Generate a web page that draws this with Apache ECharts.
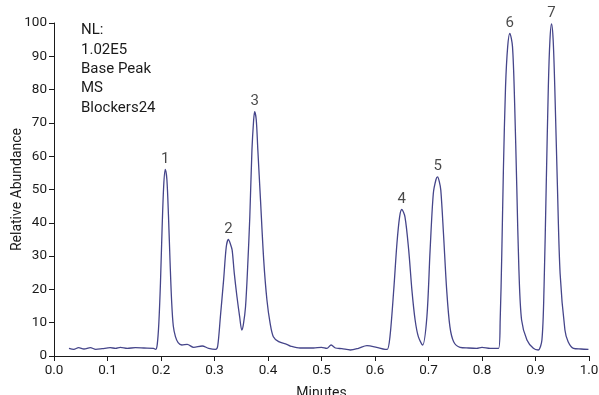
<!DOCTYPE html>
<html>
<head>
<meta charset="utf-8">
<script src="https://cdn.jsdelivr.net/npm/echarts@6/dist/echarts.min.js"></script>
<style>
html,body{margin:0;padding:0;background:#fff;}
#c{width:599px;height:395px;}
</style>
</head>
<body>
<div id="c"></div>
<script>
// Retention time (minutes)
var times = [
0.028,0.037,0.046,0.056,0.068,0.078,0.090,0.105,0.115,0.124,0.137,0.152,0.168,0.186,0.190,
0.193,0.196,0.199,0.202,0.205,0.208,0.211,0.214,0.217,0.220,0.223,0.227,0.232,0.239,0.249,0.261,0.277,0.289,0.302,
0.306,0.311,0.317,0.322,0.326,0.330,0.333,0.337,0.342,0.347,0.351,0.354,0.358,0.362,0.366,0.370,0.373,0.375,0.378,0.381,0.386,0.392,0.398,0.404,0.410,0.420,0.435,
0.442,0.460,0.485,0.500,0.510,0.518,0.526,0.538,0.554,0.569,0.585,0.603,0.619,
0.623,0.628,0.635,0.641,0.646,0.650,0.656,0.663,0.669,0.675,0.681,0.689,0.697,0.703,0.709,0.714,0.717,0.720,0.723,0.728,0.734,0.740,0.747,0.759,
0.775,0.790,0.800,0.815,0.831,
0.834,0.837,0.840,0.844,0.848,0.852,0.857,0.861,0.865,0.869,0.874,0.884,0.896,0.905,
0.912,0.916,0.920,0.924,0.927,0.930,0.933,0.936,0.941,0.946,0.955,0.961,0.971,0.985,0.999
];
// Relative abundance (%)
var abundance = [
2.3,2.0,2.5,2.1,2.5,2.0,2.2,2.5,2.3,2.6,2.3,2.5,2.4,2.3,2.0,
3.5,10,22,38,51,56,53,42,28,16,9,5.8,4.0,3.3,3.5,2.6,3.0,2.3,2.0,
3.0,11.8,22.8,32.8,35,33.5,31.8,24.8,17.8,11.8,7.8,9.5,14.8,26.8,41.8,61.9,70.5,73.4,71,61.9,46.8,28.8,16.8,9.8,5.8,4.3,3.5,
3.0,2.4,2.4,2.6,2.3,3.3,2.4,2.2,1.8,2.3,3.1,2.6,2.0,
2.0,5.8,19.8,33.8,41.8,44,41.8,31.8,19.8,10.8,5.8,3.3,11.8,31.8,48.8,53,53.8,52.5,49.8,36.8,19.8,8.8,4.3,2.6,
2.4,2.3,2.6,2.3,2.3,
10.8,30.8,55.9,80.9,92.9,96.9,92.9,75.9,50.8,25.8,10.8,4.8,2.3,1.8,
4.8,20.8,50.8,80.9,94.9,99.7,94.9,80.9,50.8,24.8,7.8,4.3,2.3,2.1,2.0
];
// Peak labels
var peakNames = ['1','2','3','4','5','6','7'];
var peakTimes = [0.208,0.326,0.375,0.650,0.717,0.852,0.930];
var peakHeights = [56,35,73.4,44,53.8,96.9,99.7];
var xTicks = [0.0,0.1,0.2,0.3,0.4,0.5,0.6,0.7,0.8,0.9,1.0];
var yTicks = [0,10,20,30,40,50,60,70,80,90,100];
var noteLines = ['NL:','1.02E5','Base Peak','MS','Blockers24'];

var FONT = "Roboto,'Liberation Sans',sans-serif";
var TXT = '#1a1a1a';

var lineData = times.map(function(t,i){return [t,abundance[i]];});
var peakData = peakTimes.map(function(t,i){return {value:[t,peakHeights[i]],name:peakNames[i]};});

var chart = echarts.init(document.getElementById('c'));
chart.setOption({
  backgroundColor:'#fff',
  animation:false,
  grid:{left:54,right:10,top:23,bottom:39,outerBoundsMode:'none',containLabel:false},
  xAxis:{
    type:'value',min:0,max:1,interval:0.1,
    name:'Minutes',nameLocation:'middle',nameGap:30,nameMoveOverlap:false,
    nameTextStyle:{fontFamily:FONT,fontSize:14,color:TXT},
    axisLine:{lineStyle:{color:TXT,width:1}},
    axisTick:{show:true,length:5,lineStyle:{color:TXT}},
    axisLabel:{fontFamily:FONT,fontSize:13.5,color:TXT,margin:8,
      formatter:function(v){return v.toFixed(1);}},
    splitLine:{show:false}
  },
  yAxis:{
    type:'value',min:0,max:100,interval:10,
    name:'Relative Abundance',nameLocation:'middle',nameGap:30,nameMoveOverlap:false,
    nameTextStyle:{fontFamily:FONT,fontSize:14,color:TXT},
    axisLine:{show:true,lineStyle:{color:TXT,width:1}},
    axisTick:{show:true,length:5,lineStyle:{color:TXT}},
    axisLabel:{fontFamily:FONT,fontSize:13.5,color:TXT,margin:7},
    splitLine:{show:false}
  },
  graphic:[{
    type:'text',left:81,top:21,
    style:{text:noteLines.join('\n'),font:'15px '+FONT,fill:TXT,lineHeight:19.3}
  }],
  series:[{
    type:'line',data:lineData,showSymbol:false,smooth:0.3,
    lineStyle:{color:'#45458a',width:1.3},
    itemStyle:{color:'#45458a'}
  },{
    type:'scatter',data:peakData,symbolSize:0,silent:true,
    label:{show:true,position:'top',distance:3,formatter:'{b}',
      fontFamily:FONT,fontSize:15,color:TXT}
  }]
});
</script>
</body>
</html>
